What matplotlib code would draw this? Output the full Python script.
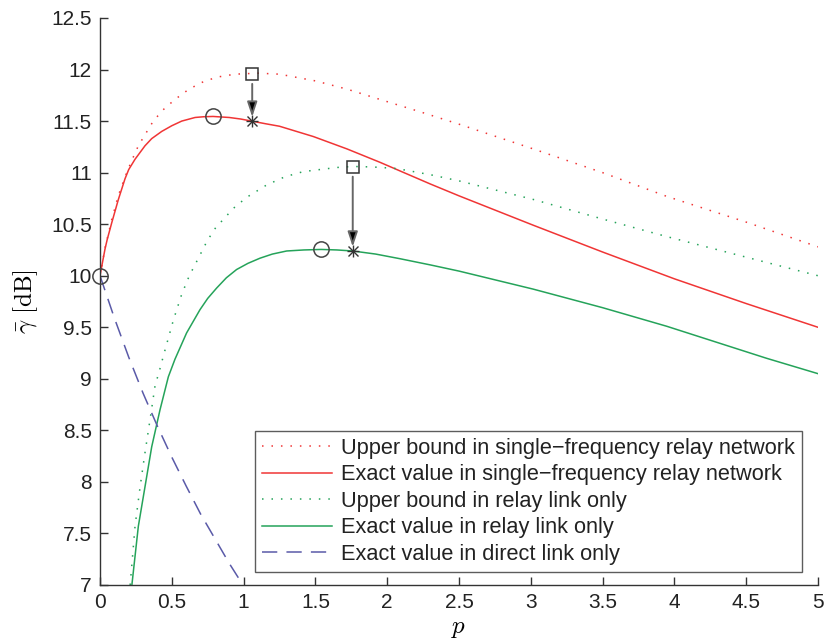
import matplotlib
matplotlib.use("Agg")
import matplotlib.pyplot as plt

plt.rcParams['font.family'] = ['Liberation Sans', 'DejaVu Sans']
plt.rcParams['mathtext.fontset'] = 'cm'

# ---- data ----
p_red_ub = [0, 0.012, 0.035, 0.081, 0.128, 0.186, 0.225, 0.267, 0.31, 0.371, 0.44, 0.522, 0.62,
            0.731, 0.83, 0.94, 1.1, 1.25, 1.5, 1.72, 1.95, 2.23, 2.5, 3.017, 3.5, 3.946, 4.5, 5.0]
v_red_ub = [10, 10.09, 10.27, 10.54, 10.78, 11.0, 11.13, 11.26, 11.36, 11.50, 11.61, 11.71, 11.81,
            11.89, 11.93, 11.955, 11.965, 11.955, 11.89, 11.81, 11.71, 11.59, 11.47, 11.23, 11.0,
            10.77, 10.52, 10.28]

p_red_ex = [0, 0.012, 0.035, 0.05, 0.081, 0.128, 0.174, 0.2, 0.244, 0.313, 0.36, 0.43, 0.5, 0.569,
            0.662, 0.72, 0.787, 0.9, 0.98, 1.056, 1.15, 1.25, 1.486, 1.72, 1.95, 2.3, 2.5, 3.017,
            3.5, 4.0, 4.5, 5.0]
v_red_ex = [10, 10.09, 10.26, 10.35, 10.51, 10.74, 10.94, 11.03, 11.13, 11.26, 11.33, 11.40, 11.455,
            11.50, 11.535, 11.542, 11.545, 11.535, 11.52, 11.50, 11.475, 11.45, 11.35, 11.23, 11.10,
            10.89, 10.775, 10.49, 10.23, 9.97, 9.73, 9.5]

p_grn_ub = [0.210, 0.244, 0.279, 0.313, 0.348, 0.383, 0.418, 0.441, 0.511, 0.569, 0.622, 0.685,
            0.747, 0.812, 0.870, 0.917, 1.021, 1.16, 1.288, 1.416, 1.532, 1.65, 1.76, 1.9, 2.066,
            2.3, 2.5, 3.017, 3.5, 3.946, 4.5, 5.0]
v_grn_ub = [7.0, 7.57, 7.95, 8.28, 8.60, 8.93, 9.10, 9.22, 9.57, 9.82, 10.0, 10.17,
            10.34, 10.48, 10.56, 10.64, 10.76, 10.88, 10.96, 11.01, 11.03, 11.05, 11.06, 11.055,
            11.04, 10.98, 10.92, 10.74, 10.55, 10.38, 10.18, 10.0]

p_grn_ex = [0.222, 0.267, 0.313, 0.36, 0.418, 0.476, 0.522, 0.603, 0.696, 0.75, 0.812, 0.88,
            0.951, 1.03, 1.114, 1.2, 1.30, 1.42, 1.54, 1.65, 1.76, 1.92, 2.089, 2.3, 2.5, 3.017,
            3.5, 3.946, 4.64, 5.0]
v_grn_ex = [7.0, 7.57, 7.95, 8.34, 8.70, 9.02, 9.19, 9.445, 9.67, 9.78, 9.88, 9.98,
            10.06, 10.12, 10.17, 10.21, 10.24, 10.25, 10.255, 10.25, 10.24, 10.21, 10.165, 10.105,
            10.045, 9.87, 9.69, 9.51, 9.2, 9.05]

p_direct = [0, 0.1, 0.2, 0.3, 0.4, 0.5, 0.6, 0.7, 0.8, 0.9, 1.0]
v_direct = [10, 9.59, 9.21, 8.86, 8.54, 8.24, 7.96, 7.69, 7.45, 7.21, 6.99]

circles_p = [0, 0.787, 1.54]
circles_v = [10, 11.545, 10.255]
squares_p = [1.06, 1.76]
squares_v = [11.955, 11.055]
stars_p = [1.06, 1.76]
stars_v = [11.50, 10.24]

labels = ["Upper bound in single\u2212frequency relay network",
          "Exact value in single\u2212frequency relay network",
          "Upper bound in relay link only",
          "Exact value in relay link only",
          "Exact value in direct link only"]

xticks = [0, 0.5, 1, 1.5, 2, 2.5, 3, 3.5, 4, 4.5, 5]
xticklabels = ['0', '0.5', '1', '1.5', '2', '2.5', '3', '3.5', '4', '4.5', '5']
yticks = [7, 7.5, 8, 8.5, 9, 9.5, 10, 10.5, 11, 11.5, 12, 12.5]
yticklabels = ['7', '7.5', '8', '8.5', '9', '9.5', '10', '10.5', '11', '11.5', '12', '12.5']

RED = '#f03535'
GREEN = '#25a35a'
BLUE = '#5a5aa8'
MK = '#444444'

fig = plt.figure(figsize=(8.28, 6.42), dpi=100)
ax = fig.add_axes([100/828, 1-585/642, 718/828, 567/642])

dot = (0, (1, 5.2))
ax.plot(p_red_ub, v_red_ub, color=RED, lw=1.1, ls=dot, label=labels[0])
ax.plot(p_red_ex, v_red_ex, color=RED, lw=1.1, ls='-', label=labels[1])
ax.plot(p_grn_ub, v_grn_ub, color=GREEN, lw=1.1, ls=dot, label=labels[2])
ax.plot(p_grn_ex, v_grn_ex, color=GREEN, lw=1.1, ls='-', label=labels[3])
ax.plot(p_direct, v_direct, color=BLUE, lw=1.1, ls=(0, (10, 6)), label=labels[4])

# arrows from square to star
for x0, y0, y1 in zip(squares_p, squares_v, stars_v):
    ax.annotate('', xy=(x0, y1), xytext=(x0, y0),
                arrowprops=dict(arrowstyle='-|>,head_length=0.9,head_width=0.3',
                                ec='#666666', fc='black', lw=1.4,
                                shrinkA=7, shrinkB=3))

ax.plot(circles_p, circles_v, ls='none', marker='o', ms=11, mfc='none', mec=MK, mew=1.1,
        clip_on=False, zorder=5)
ax.plot(squares_p, squares_v, ls='none', marker='s', ms=8.5, mfc='none', mec='#333333', mew=1.1,
        zorder=5)
ax.plot(stars_p, stars_v, ls='none', marker='+', ms=9, mec='#333333', mew=1.0, zorder=5)
ax.plot(stars_p, stars_v, ls='none', marker='x', ms=6.5, mec='#333333', mew=1.0, zorder=5)

ax.set_xlim(0, 5)
ax.set_ylim(7, 12.5)
ax.set_xticks(xticks)
ax.set_xticklabels(xticklabels)
ax.set_yticks(yticks)
ax.set_yticklabels(yticklabels)

for s in ['top', 'right']:
    ax.spines[s].set_visible(False)
for s in ['left', 'bottom']:
    ax.spines[s].set_color('#333333')
    ax.spines[s].set_linewidth(1.0)
ax.tick_params(direction='in', length=6, width=1.0, color='#333333',
               labelsize=15, labelcolor='#222222', pad=6)

ax.set_xlabel(r'$p$', fontsize=18, labelpad=3)
ax.set_ylabel(r'$\bar{\gamma}\ \mathrm{[dB]}$', fontsize=18, labelpad=8)

leg = ax.legend(loc='lower right', bbox_to_anchor=(0.978, 0.023), borderaxespad=0,
                fontsize=15.7, frameon=True, fancybox=False, edgecolor='#333333',
                handlelength=3.2, handletextpad=0.42, labelspacing=0.25, borderpad=0.33)
leg.get_frame().set_linewidth(1.0)
for t in leg.get_texts():
    t.set_color('#222222')

fig.savefig('out.png', dpi=100)
